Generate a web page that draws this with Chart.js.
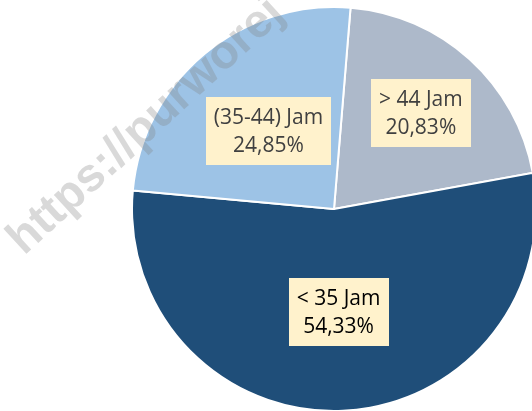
<!DOCTYPE html>
<html><head><meta charset="utf-8">
<script src="https://cdn.jsdelivr.net/npm/chart.js@4.4.0/dist/chart.umd.min.js"></script>
<style>html,body{margin:0;padding:0;background:#fff;overflow:hidden}</style>
</head><body>
<div style="position:relative;width:532px;height:411px"><canvas id="c" width="532" height="411"></canvas></div>
<script>
// data
const categories = ['> 44 Jam', '< 35 Jam', '(35-44) Jam'];
const values = [20.83, 54.33, 24.85];
const valueLabels = ['20,83%', '54,33%', '24,85%'];
const colors = ['#ADB9CA', '#1F4E79', '#9DC3E6'];
const labelTextColors = ['#404040', '#000000', '#404040'];
const labelDist = [0.64, 0.51, 0.505];
const watermarkText = 'https://purworej';

const labelPlugin = {
  id: 'boxLabels',
  afterDatasetsDraw(chart) {
    const ctx = chart.ctx;
    // watermark
    ctx.save();
    ctx.translate(24, 256);
    ctx.rotate(-42.5 * Math.PI / 180);
    ctx.font = 'bold 47px "Liberation Sans", Arial, sans-serif';
    ctx.fillStyle = 'rgba(130,130,130,0.3)';
    ctx.textBaseline = 'alphabetic';
    ctx.textAlign = 'left';
    ctx.fillText(watermarkText, 0, 0);
    ctx.restore();
  },
  afterDraw(chart) {
    const ctx = chart.ctx;
    const meta = chart.getDatasetMeta(0);
    ctx.save();
    ctx.font = '21px "Open Sans", sans-serif';
    ctx.textAlign = 'center';
    ctx.textBaseline = 'middle';
    meta.data.forEach((arc, i) => {
      const p = arc.getProps(['x', 'y', 'startAngle', 'endAngle', 'outerRadius'], true);
      const mid = (p.startAngle + p.endAngle) / 2;
      const cx = p.x + Math.cos(mid) * p.outerRadius * labelDist[i];
      const cy = p.y + Math.sin(mid) * p.outerRadius * labelDist[i];
      const lines = [categories[i], valueLabels[i]];
      const tw = Math.max(...lines.map(l => ctx.measureText(l).width));
      const lh = 28, padX = 8, padY = 6;
      const bw = tw + padX * 2, bh = lh * 2 + padY * 2;
      ctx.fillStyle = '#FFF2CC';
      ctx.fillRect(Math.round(cx - bw / 2), Math.round(cy - bh / 2), Math.round(bw), Math.round(bh));
      ctx.fillStyle = labelTextColors[i];
      ctx.fillText(lines[0], cx, cy - lh / 2 + 1);
      ctx.fillText(lines[1], cx, cy + lh / 2 + 1);
    });
    ctx.restore();
  }
};

new Chart(document.getElementById('c'), {
  type: 'pie',
  data: {
    labels: categories,
    datasets: [{
      data: values,
      backgroundColor: colors,
      borderColor: '#ffffff',
      borderWidth: 2,
      radius: 202,
      clip: false
    }]
  },
  options: {
    responsive: false,
    animation: false,
    rotation: 4.7,
    layout: { padding: { left: 136, right: 0, top: 7, bottom: 0 } },
    plugins: { legend: { display: false }, tooltip: { enabled: false } },
    events: []
  },
  plugins: [labelPlugin]
});
</script>
</body></html>
